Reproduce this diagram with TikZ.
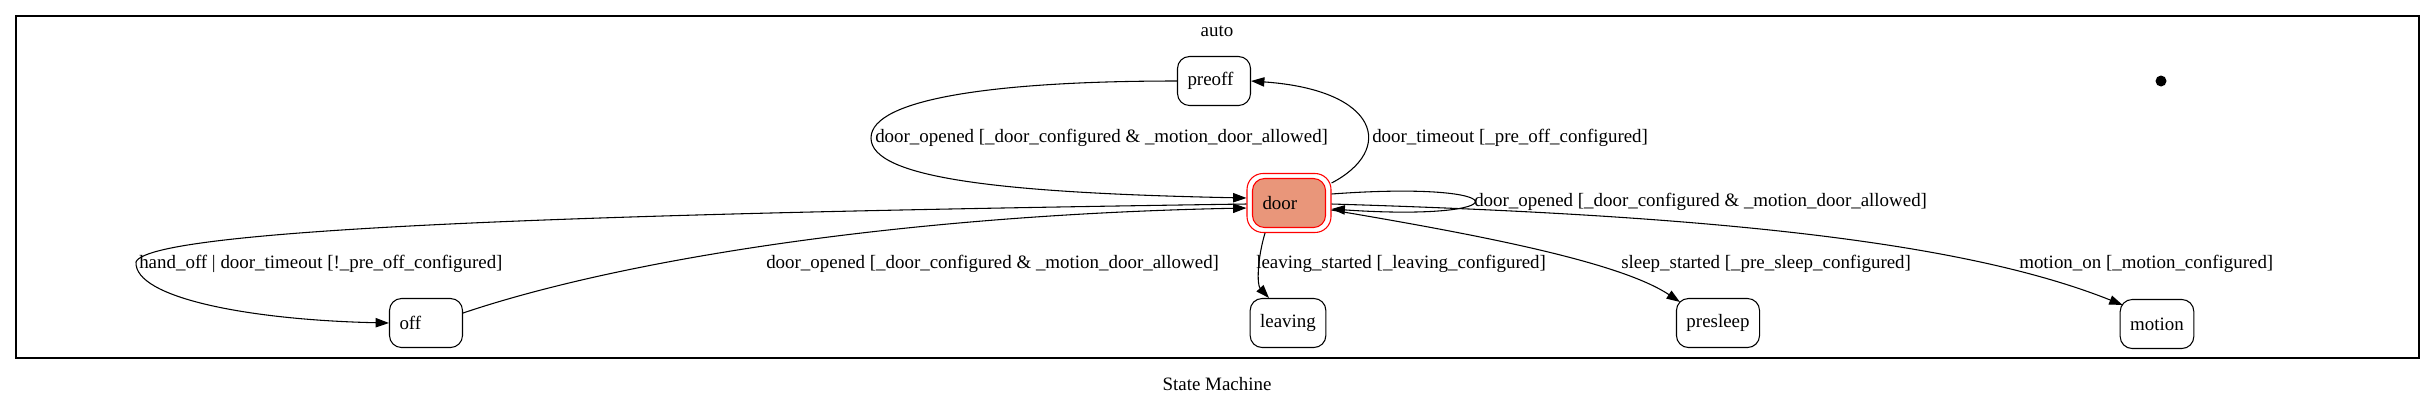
\documentclass[tikz,border=0pt]{standalone}
\usepackage{fontspec}
\setmainfont{Liberation Serif}
\usetikzlibrary{arrows.meta,calc}

\definecolor{doorfill}{RGB}{233,150,122}

\begin{document}
\begin{tikzpicture}[x=0.75pt, y=-0.75pt,
    every node/.style={font=\fontsize{14.2}{17}\selectfont},
    state/.style={draw, line width=0.8pt, rounded corners=9pt, minimum width=54.75pt, minimum height=36.75pt, inner xsep=7.5pt},
    short/.style={text width=39.75pt, align=left},
    trans/.style={line width=0.8pt, -{Triangle[length=10pt, width=7pt]}},
    lbl/.style={anchor=west, inner sep=0pt}]
    \useasboundingbox (0,0) rectangle (2435,405);
    % cluster and titles
    \draw[line width=0.9pt] (16,16) rectangle (2419,358);
    \node (auto) at (1217,31) {auto};
    \node (title) at (1217,384) {State Machine};
    % states
    \node[draw=red, line width=0.8pt, rounded corners=12pt, minimum width=63pt, minimum height=44.25pt] (doorbox) at (1289,203) {};
    \node[state, short, draw=red, fill=doorfill] (door) at (1289,203) {door};
    \node[state, short] (preoff) at (1214,81) {preoff};
    \node[state, short] (off) at (426,323) {off};
    \node[state] (leaving) at (1288,323) {leaving};
    \node[state] (presleep) at (1718,323) {presleep};
    \node[state] (motion) at (2157,324) {motion};
    \node[circle, fill, inner sep=0pt, minimum size=8.25pt] (init) at (2161,81) {};
    % transitions
    \draw[trans] (preoff.west) .. controls (1000,81) and (871,98) .. (871,138)
        .. controls (871,178) and (1000,193) .. ($(doorbox.west)+(0,-5)$);
    \draw[trans] ($(doorbox.east)+(0,-20)$) .. controls (1395,150) and (1380,90) .. (preoff.east);
    \draw[trans] ($(doorbox.east)+(0,-9)$) .. controls (1521,180) and (1521,222) .. ($(doorbox.east)+(0,6)$);
    \draw[trans] ($(doorbox.west)+(0,1)$) .. controls (700,212) and (150,225) .. (136,262)
        .. controls (134,298) and (250,320) .. (off.west);
    \draw[trans] ($(off.east)+(0,-10)$) .. controls (620,260) and (900,215) .. ($(doorbox.west)+(0,5)$);
    \draw[trans] ($(doorbox.south)+(-24,0)$) .. controls (1257,260) and (1257,285) .. ($(leaving.north)+(-19,0)$);
    \draw[trans] ($(doorbox.east)+(0,7)$) .. controls (1480,235) and (1620,262) .. ($(presleep.north west)+(4,4)$);
    \draw[trans] ($(doorbox.east)+(0,1)$) .. controls (1700,215) and (1960,240) .. ($(motion.north west)+(3,6)$);
    % labels
    \node[lbl] (openedA) at (875,138) {door\_opened [\_door\_configured \& \_motion\_door\_allowed]};
    \node[lbl] (timeout) at (1372,138) {door\_timeout [\_pre\_off\_configured]};
    \node[lbl] (openedB) at (1474,202) {door\_opened [\_door\_configured \& \_motion\_door\_allowed]};
    \node[lbl] (handoff) at (139,264) {hand\_off | door\_timeout [!\_pre\_off\_configured]};
    \node[lbl] (openedC) at (766,264) {door\_opened [\_door\_configured \& \_motion\_door\_allowed]};
    \node[lbl] (leavingl) at (1256,264) {leaving\_started [\_leaving\_configured]};
    \node[lbl] (sleepl) at (1621,264) {sleep\_started [\_pre\_sleep\_configured]};
    \node[lbl] (motionl) at (2019,264) {motion\_on [\_motion\_configured]};
\end{tikzpicture}
\end{document}
